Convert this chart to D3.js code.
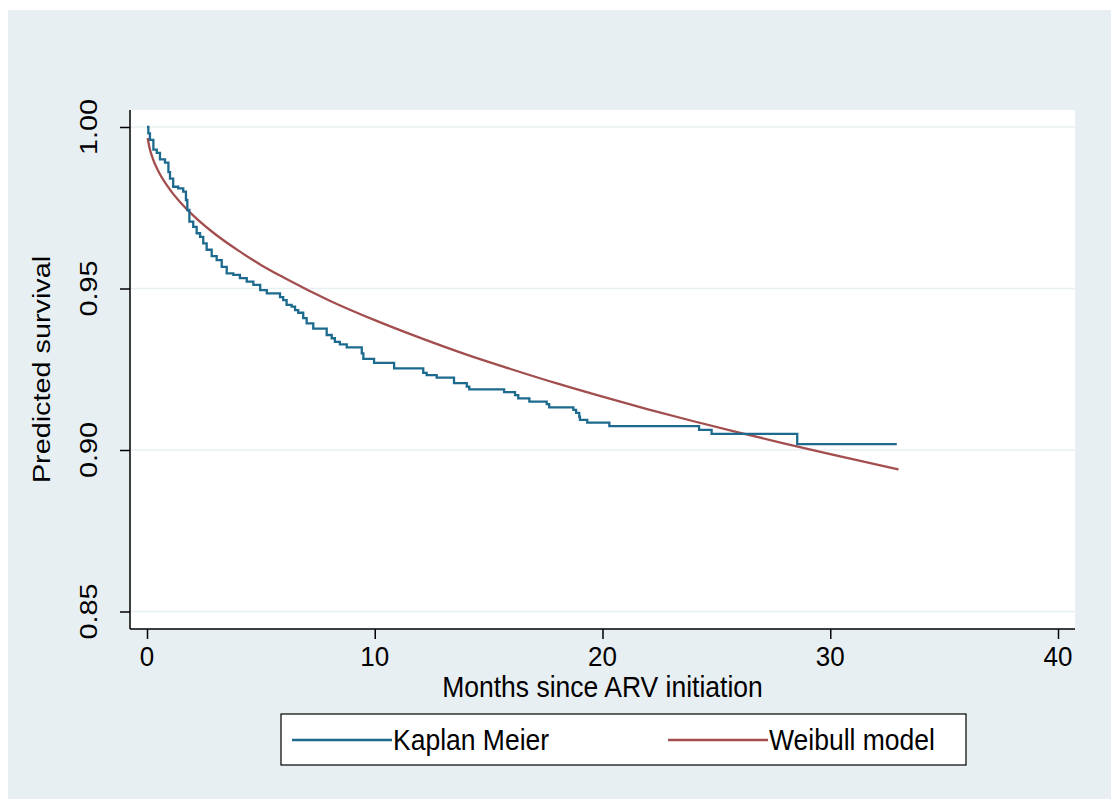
<!DOCTYPE html>
<html>
<head>
<meta charset="utf-8">
<script src="https://cdn.jsdelivr.net/npm/d3@7"></script>
<style>
  body { margin: 0; background: #ffffff; }
  text { font-family: "Liberation Sans", Arial, sans-serif; fill: #000; }
</style>
</head>
<body>
<div id="chart"></div>
<script>
// Kaplan Meier steps: [months, survival after the drop]
var kmTimes = [0, 0.06, 0.13, 0.28, 0.43, 0.57, 0.79, 0.94, 1.01, 1.15, 1.37, 1.59, 1.71, 1.77, 1.86,
  2.03, 2.18, 2.33, 2.47, 2.62, 2.84, 3.06, 3.28, 3.50, 3.79, 4.08, 4.38, 4.67, 4.97, 5.26, 5.84,
  5.98, 6.13, 6.35, 6.50, 6.64, 6.86, 7.01, 7.30, 7.89, 8.11, 8.25, 8.47, 8.77, 9.43, 9.50, 9.97,
  10.85, 12.13, 12.28, 12.72, 13.48, 14.04, 14.15, 15.68, 16.16, 16.30, 16.79, 17.55, 17.66, 18.72,
  18.84, 18.98, 19.01, 19.33, 20.30, 24.24, 24.79, 28.55, 32.92];
var kmSurv = [1.000, 0.998, 0.996, 0.993, 0.992, 0.990, 0.989, 0.986, 0.984, 0.9815, 0.981, 0.980, 0.9774, 0.9743, 0.9707,
  0.9691, 0.9671, 0.966, 0.964, 0.962, 0.960, 0.9588, 0.9567, 0.9547, 0.9542, 0.9532, 0.9521, 0.9511, 0.9495, 0.9485, 0.9473,
  0.9464, 0.9449, 0.9444, 0.9433, 0.9425, 0.9408, 0.9392, 0.9376, 0.9356, 0.9346, 0.9335, 0.9327, 0.9318, 0.9299, 0.9282, 0.9270,
  0.9253, 0.9239, 0.9232, 0.9224, 0.9207, 0.9196, 0.9188, 0.9179, 0.9170, 0.9160, 0.9150, 0.9142, 0.9132, 0.9124,
  0.9115, 0.9103, 0.9093, 0.9085, 0.9074, 0.9062, 0.9050, 0.9018, 0.9018];

// Weibull model curve
var wbTimes = [0.03, 0.1, 0.25, 0.5, 1, 1.5, 2, 3, 4, 5, 6, 8, 10, 12, 14, 16, 18, 20, 22, 24, 26, 28, 30, 33];
var wbSurv = [0.9966, 0.9939, 0.9903, 0.9863, 0.9807, 0.9764, 0.9728, 0.9668, 0.9618, 0.9573, 0.9534, 0.9463,
  0.9402, 0.9347, 0.9296, 0.9250, 0.9206, 0.9165, 0.9126, 0.9089, 0.9054, 0.9020, 0.8987, 0.8940];

var xTicks = [0, 10, 20, 30, 40];
var yTicks = [0.85, 0.90, 0.95, 1.00];
var legendLabels = ["Kaplan Meier", "Weibull model"];
var colors = ["#1c6a8d", "#a34e4e"];

var W = 1111, H = 799;
var plot = {left: 130, right: 1075, top: 110, bottom: 629};
var hStretch = 1.08; // horizontal text is drawn a little taller than wide
var vStretch = 1.2;  // rotated text is drawn longer than normal

var svg = d3.select("#chart").append("svg")
  .attr("width", W).attr("height", H);

svg.append("rect")//outer light bluish background
  .attr("x", 8).attr("y", 10)
  .attr("width", W - 8).attr("height", H - 10)
  .attr("fill", "#e8eff2");

svg.append("rect")//white plot region
  .attr("x", plot.left).attr("y", plot.top)
  .attr("width", plot.right - plot.left).attr("height", plot.bottom - plot.top)
  .attr("fill", "#ffffff");

var x = d3.scaleLinear().domain([0, 40]).range([147, 1058]);
var y = d3.scaleLinear().domain([0.85, 1.00]).range([611.5, 127]);

// gridlines
svg.append("g").selectAll("line")
  .data(yTicks)
  .enter().append("line")
    .attr("x1", plot.left).attr("x2", plot.right)
    .attr("y1", function(d) { return y(d); })
    .attr("y2", function(d) { return y(d); })
    .attr("stroke", "#e8eff2")
    .attr("stroke-width", 1.6);

// axes
var xAxis = svg.append("g")
  .attr("transform", "translate(0," + plot.bottom + ")")
  .call(d3.axisBottom(x).tickValues(xTicks).tickSize(10).tickFormat(""));
xAxis.select(".domain").attr("d", "M" + plot.left + ",0H" + plot.right);

var yAxis = svg.append("g")
  .attr("transform", "translate(" + plot.left + ",0)")
  .call(d3.axisLeft(y).tickValues(yTicks).tickSize(10).tickFormat(""));
yAxis.select(".domain").attr("d", "M0," + plot.top + "V" + plot.bottom);

svg.selectAll(".domain, .tick line").attr("stroke", "#000").attr("stroke-width", 1.5);

// tick labels
svg.append("g").selectAll("text")
  .data(xTicks)
  .enter().append("text")
    .attr("text-anchor", "middle")
    .attr("font-size", 26)
    .attr("transform", function(d) { return "translate(" + x(d) + ",666) scale(1," + hStretch + ")"; })
    .text(function(d) { return d; });

svg.append("g").selectAll("text")
  .data(yTicks)
  .enter().append("text")
    .attr("text-anchor", "middle")
    .attr("font-size", 24)
    .attr("transform", function(d) { return "translate(97," + y(d) + ") rotate(-90) scale(" + vStretch + ",1)"; })
    .text(function(d) { return d3.format(".2f")(d); });

// axis titles
svg.append("text")
  .attr("text-anchor", "middle")
  .attr("font-size", 26.5)
  .attr("transform", "translate(" + (plot.left + plot.right) / 2 + ",697) scale(1," + hStretch + ")")
  .text("Months since ARV initiation");

svg.append("text")
  .attr("text-anchor", "middle")
  .attr("font-size", 24)
  .attr("transform", "translate(50," + (plot.top + plot.bottom) / 2 + ") rotate(-90) scale(" + vStretch + ",1)")
  .text("Predicted survival");

// series
var km = kmTimes.map(function(t, i) { return [t, kmSurv[i]]; });
var wb = wbTimes.map(function(t, i) { return [t, wbSurv[i]]; });

svg.append("path")
  .datum(wb)
  .attr("fill", "none")
  .attr("stroke", colors[1])
  .attr("stroke-width", 2.3)
  .attr("d", d3.line().x(function(d) { return x(d[0]); }).y(function(d) { return y(d[1]); }).curve(d3.curveMonotoneX));

svg.append("path")
  .datum(km)
  .attr("fill", "none")
  .attr("stroke", colors[0])
  .attr("stroke-width", 2.3)
  .attr("d", d3.line().x(function(d) { return x(d[0]); }).y(function(d) { return y(d[1]); }).curve(d3.curveStepAfter));

// legend
var legend = svg.append("g");
legend.append("rect")
  .attr("x", 281).attr("y", 714)
  .attr("width", 685).attr("height", 51)
  .attr("fill", "#ffffff")
  .attr("stroke", "#000")
  .attr("stroke-width", 1.2);

var items = legend.selectAll(".item")
  .data(legendLabels)
  .enter().append("g")
    .attr("transform", function(d, i) { return "translate(" + (292 + i * 376) + ",740)"; });
items.append("line")
  .attr("x1", 0).attr("x2", 100)
  .attr("stroke", function(d, i) { return colors[i]; })
  .attr("stroke-width", 2.3);
items.append("text")
  .attr("font-size", 26.5)
  .attr("transform", "translate(101,10) scale(1," + hStretch + ")")
  .text(function(d) { return d; });
</script>
</body>
</html>
